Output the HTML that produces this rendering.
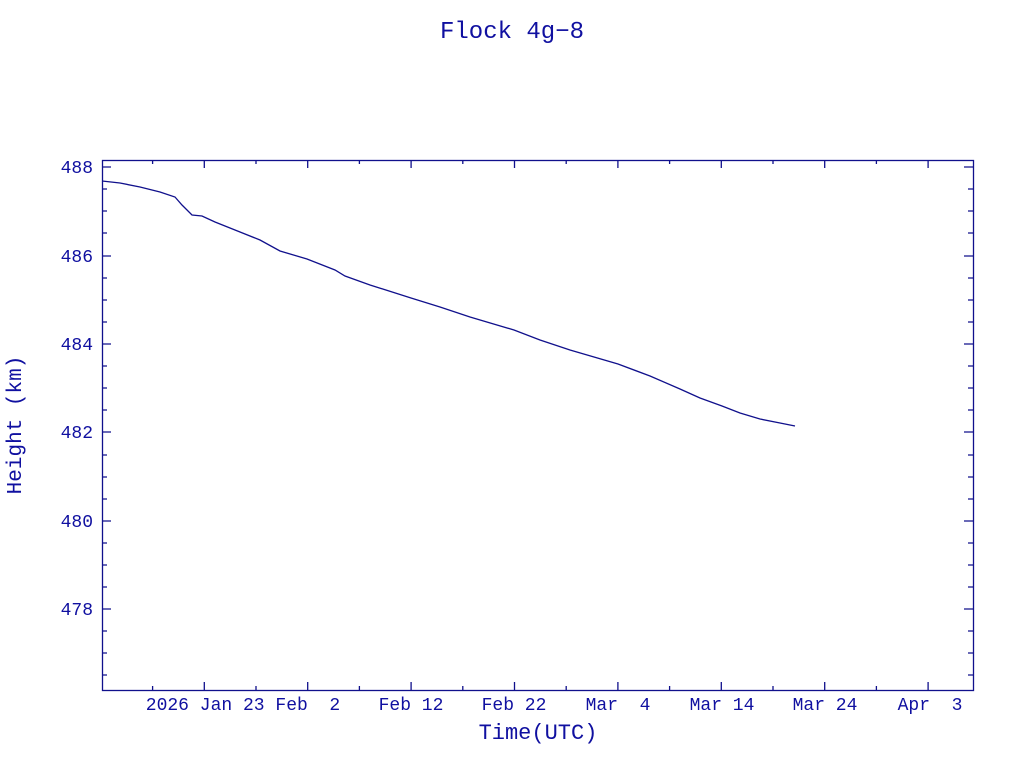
<!DOCTYPE html>
<html><head><meta charset="utf-8"><style>body{margin:0;background:#fff}svg{display:block}text{white-space:pre}</style></head><body>
<svg width="1024" height="768" xmlns="http://www.w3.org/2000/svg" font-family="Liberation Mono, monospace" fill="#1010a0">
<text x="512" y="38" font-size="24" text-anchor="middle">Flock 4g−8</text>
<rect x="102.5" y="160.5" width="871" height="530" fill="none" stroke="#10108c" stroke-width="1.3"/>
<g stroke="#10108c" stroke-width="1.3">
<path d="M102 167h9M102 256h9M102 344h9M102 432h9M102 521h9M102 609h9M973 167h-9M973 256h-9M973 344h-9M973 432h-9M973 521h-9M973 609h-9"/>
<path d="M102 189h5M102 211h5M102 233h5M102 278h5M102 300h5M102 322h5M102 366h5M102 388h5M102 410h5M102 455h5M102 477h5M102 499h5M102 543h5M102 565h5M102 587h5M102 631h5M102 653h5M102 675h5
M973 189h-5M973 211h-5M973 233h-5M973 278h-5M973 300h-5M973 322h-5M973 366h-5M973 388h-5M973 410h-5M973 455h-5M973 477h-5M973 499h-5M973 543h-5M973 565h-5M973 587h-5M973 631h-5M973 653h-5M973 675h-5"/>
<path d="M204.3 690v-8M307.7 690v-8M411.1 690v-8M514.5 690v-8M617.9 690v-8M721.3 690v-8M824.7 690v-8M928.1 690v-8
M204.3 160v8M307.7 160v8M411.1 160v8M514.5 160v8M617.9 160v8M721.3 160v8M824.7 160v8M928.1 160v8
M152.6 690v-4M256 690v-4M359.4 690v-4M462.8 690v-4M566.2 690v-4M669.6 690v-4M773 690v-4M876.4 690v-4
M152.6 160v4M256 160v4M359.4 160v4M462.8 160v4M566.2 160v4M669.6 160v4M773 160v4M876.4 160v4"/>
</g>
<g font-size="18" text-anchor="end">
<text x="93" y="173">488</text><text x="93" y="262">486</text><text x="93" y="350">484</text><text x="93" y="438">482</text><text x="93" y="527">480</text><text x="93" y="615">478</text>
</g>
<g font-size="18" text-anchor="middle">
<text x="243" y="710">2026 Jan 23 Feb  2</text>
<text x="411" y="710">Feb 12</text><text x="514" y="710">Feb 22</text><text x="618" y="710">Mar  4</text><text x="722" y="710">Mar 14</text><text x="825" y="710">Mar 24</text><text x="930" y="710">Apr  3</text>
</g>
<text x="538" y="739" font-size="22" text-anchor="middle">Time(UTC)</text>
<text transform="translate(21 425) rotate(-90)" font-size="21" text-anchor="middle">Height (km)</text>
<polyline fill="none" stroke="#10108c" stroke-width="1.3" points="102,181 120,183 140,187 160,192 175,197 182,205 192,215 202,216 215,222 240,232 260,240 280,251 307,259 335,270 345,276 370,285 411,298 440,307 470,317 514,330 540,340 570,350 618,364 650,376 680,389 700,398 722,406 740,413 760,419 780,423 795,426"/>
</svg>
</body></html>
